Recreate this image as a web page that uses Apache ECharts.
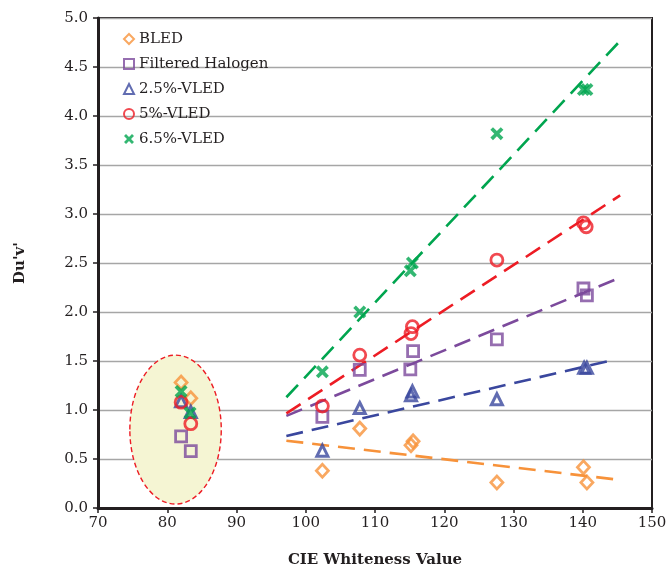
<!DOCTYPE html>
<html>
<head>
<meta charset="utf-8">
<script src="https://cdn.jsdelivr.net/npm/echarts@6/dist/echarts.min.js"></script>
<style>
  html, body { margin: 0; padding: 0; background: #fff; }
  #chart { width: 670px; height: 569px; }
</style>
</head>
<body>
<div id="chart"></div>
<script>
// Measured samples: CIE whiteness (x) against Du'v' (y)
const bledX     = [82.0, 83.4, 102.4, 107.8, 115.5, 115.2, 127.6, 140.1, 140.6];
const bledY     = [1.28, 1.12, 0.38, 0.81, 0.68, 0.64, 0.26, 0.415, 0.26];
const halogenX  = [82.0, 83.4, 102.4, 107.8, 115.5, 115.1, 127.6, 140.1, 140.6];
const halogenY  = [0.73, 0.58, 0.93, 1.41, 1.60, 1.415, 1.72, 2.24, 2.17];
const vled25X   = [82.0, 83.4, 102.4, 107.8, 115.4, 115.2, 127.6, 140.2, 140.6];
const vled25Y   = [1.09, 0.98, 0.585, 1.02, 1.19, 1.15, 1.11, 1.43, 1.43];
const vled5X    = [82.0, 83.4, 102.4, 107.8, 115.4, 115.2, 127.6, 140.1, 140.5];
const vled5Y    = [1.08, 0.86, 1.04, 1.56, 1.85, 1.78, 2.53, 2.91, 2.87];
const vled65X   = [82.0, 83.3, 102.4, 107.8, 115.4, 115.1, 127.6, 140.1, 140.6];
const vled65Y   = [1.19, 0.97, 1.39, 2.00, 2.50, 2.42, 3.82, 4.27, 4.27];

// Linear trend lines, given by their two end points [x, y]
const trendBled    = [[97.2, 0.687], [145.4, 0.286]];
const trendHalogen = [[97.2, 0.94],  [145.7, 2.36]];
const trendVled25  = [[97.2, 0.735], [144.4, 1.51]];
const trendVled5   = [[97.2, 0.966], [145.4, 3.19]];
const trendVled65  = [[97.2, 1.13],  [145.7, 4.79]];

// Highlighted cluster: centre x, centre y, radius x, radius y
const clusterEllipse = [[81.2, 0.80, 6.6, 0.76]];

const seriesNames = ['BLED', 'Filtered Halogen', '2.5%-VLED', '5%-VLED', '6.5%-VLED'];
const xTicks = [70, 80, 90, 100, 110, 120, 130, 140, 150];

const colors = {
  bled: '#f7923a',
  halogen: '#7c4a9c',
  vled25: '#3a479e',
  vled5: '#ed1c24',
  vled65: '#00a54f'
};
const ink = '#231f20';
const serif = '"DejaVu Serif", "Liberation Serif", serif';
const crossPath = 'path://M0,2 L2,0 L5,3 L8,0 L10,2 L7,5 L10,8 L8,10 L5,7 L2,10 L0,8 L3,5 Z';

function zip(xs, ys) { return xs.map((x, i) => [x, ys[i]]); }

function scatter(name, xs, ys, symbol, size, color, bw) {
  return {
    name, type: 'scatter', data: zip(xs, ys), symbol, symbolSize: size, z: 5,
    itemStyle: { color: 'rgba(0,0,0,0)', borderColor: color, borderWidth: bw }
  };
}

function trend(pts, color) {
  return {
    type: 'line', data: pts, symbol: 'none', silent: true, z: 3,
    lineStyle: { color, width: 2.6, type: [17, 9] }
  };
}

const chart = echarts.init(document.getElementById('chart'));
chart.setOption({
  animation: false,
  backgroundColor: '#fff',
  grid: {
    left: 98, right: 18, top: 18, bottom: 61,
    outerBoundsMode: 'none',
    show: true, borderColor: ink, borderWidth: 2, backgroundColor: 'transparent'
  },
  legend: {
    data: seriesNames,
    orient: 'vertical',
    left: 118, top: 26,
    itemWidth: 10, itemHeight: 10, itemGap: 9,
    textStyle: { fontFamily: serif, fontSize: 15, color: ink, lineHeight: 16 }
  },
  xAxis: {
    type: 'value', min: 70, max: 150, interval: 10,
    name: 'CIE Whiteness Value', nameLocation: 'middle', nameGap: 45,
    nameTextStyle: { fontFamily: serif, fontSize: 15, fontWeight: 'bold', color: ink },
    axisLine: { show: true, onZero: false, lineStyle: { color: ink, width: 3 } },
    axisTick: { show: true, length: 5, lineStyle: { color: ink, width: 1.5 } },
    axisLabel: {
      fontFamily: serif, fontSize: 15, color: ink, margin: 8,
      formatter: v => xTicks.includes(v) ? String(v) : ''
    },
    splitLine: { show: false }
  },
  yAxis: {
    type: 'value', min: 0, max: 5, interval: 0.5,
    name: "Du'v'", nameLocation: 'middle', nameGap: 70, nameRotate: 90,
    nameTextStyle: { fontFamily: serif, fontSize: 15, fontWeight: 'bold', color: ink },
    axisLine: { show: true, onZero: false, lineStyle: { color: ink, width: 3 } },
    axisTick: { show: true, length: 5, lineStyle: { color: ink, width: 1.5 } },
    axisLabel: {
      fontFamily: serif, fontSize: 15, color: ink, margin: 10,
      formatter: v => v.toFixed(1)
    },
    splitLine: { show: true, lineStyle: { color: '#a6a6a6', width: 1.3 } }
  },
  series: [
    {
      type: 'custom', silent: true, z: 1, data: clusterEllipse,
      renderItem: (params, api) => {
        const c = api.coord([api.value(0), api.value(1)]);
        const s = api.size([api.value(2), api.value(3)]);
        return {
          type: 'ellipse',
          shape: { cx: c[0], cy: c[1], rx: s[0], ry: s[1] },
          style: { fill: '#f5f5d3', stroke: colors.vled5, lineWidth: 1.4, lineDash: [5, 3] }
        };
      }
    },
    trend(trendBled, colors.bled),
    trend(trendHalogen, colors.halogen),
    trend(trendVled25, colors.vled25),
    trend(trendVled5, colors.vled5),
    trend(trendVled65, colors.vled65),
    scatter('BLED', bledX, bledY, 'diamond', [12, 13], colors.bled, 2.8),
    scatter('Filtered Halogen', halogenX, halogenY, 'rect', 11, colors.halogen, 2.8),
    scatter('2.5%-VLED', vled25X, vled25Y, 'triangle', [11, 11], colors.vled25, 3),
    scatter('5%-VLED', vled5X, vled5Y, 'circle', 12, colors.vled5, 2.8),
    {
      name: '6.5%-VLED', type: 'scatter', data: zip(vled65X, vled65Y),
      symbol: crossPath, symbolSize: 13, z: 6,
      itemStyle: { color: colors.vled65, borderWidth: 0 }
    }
  ]
});
</script>
</body>
</html>
